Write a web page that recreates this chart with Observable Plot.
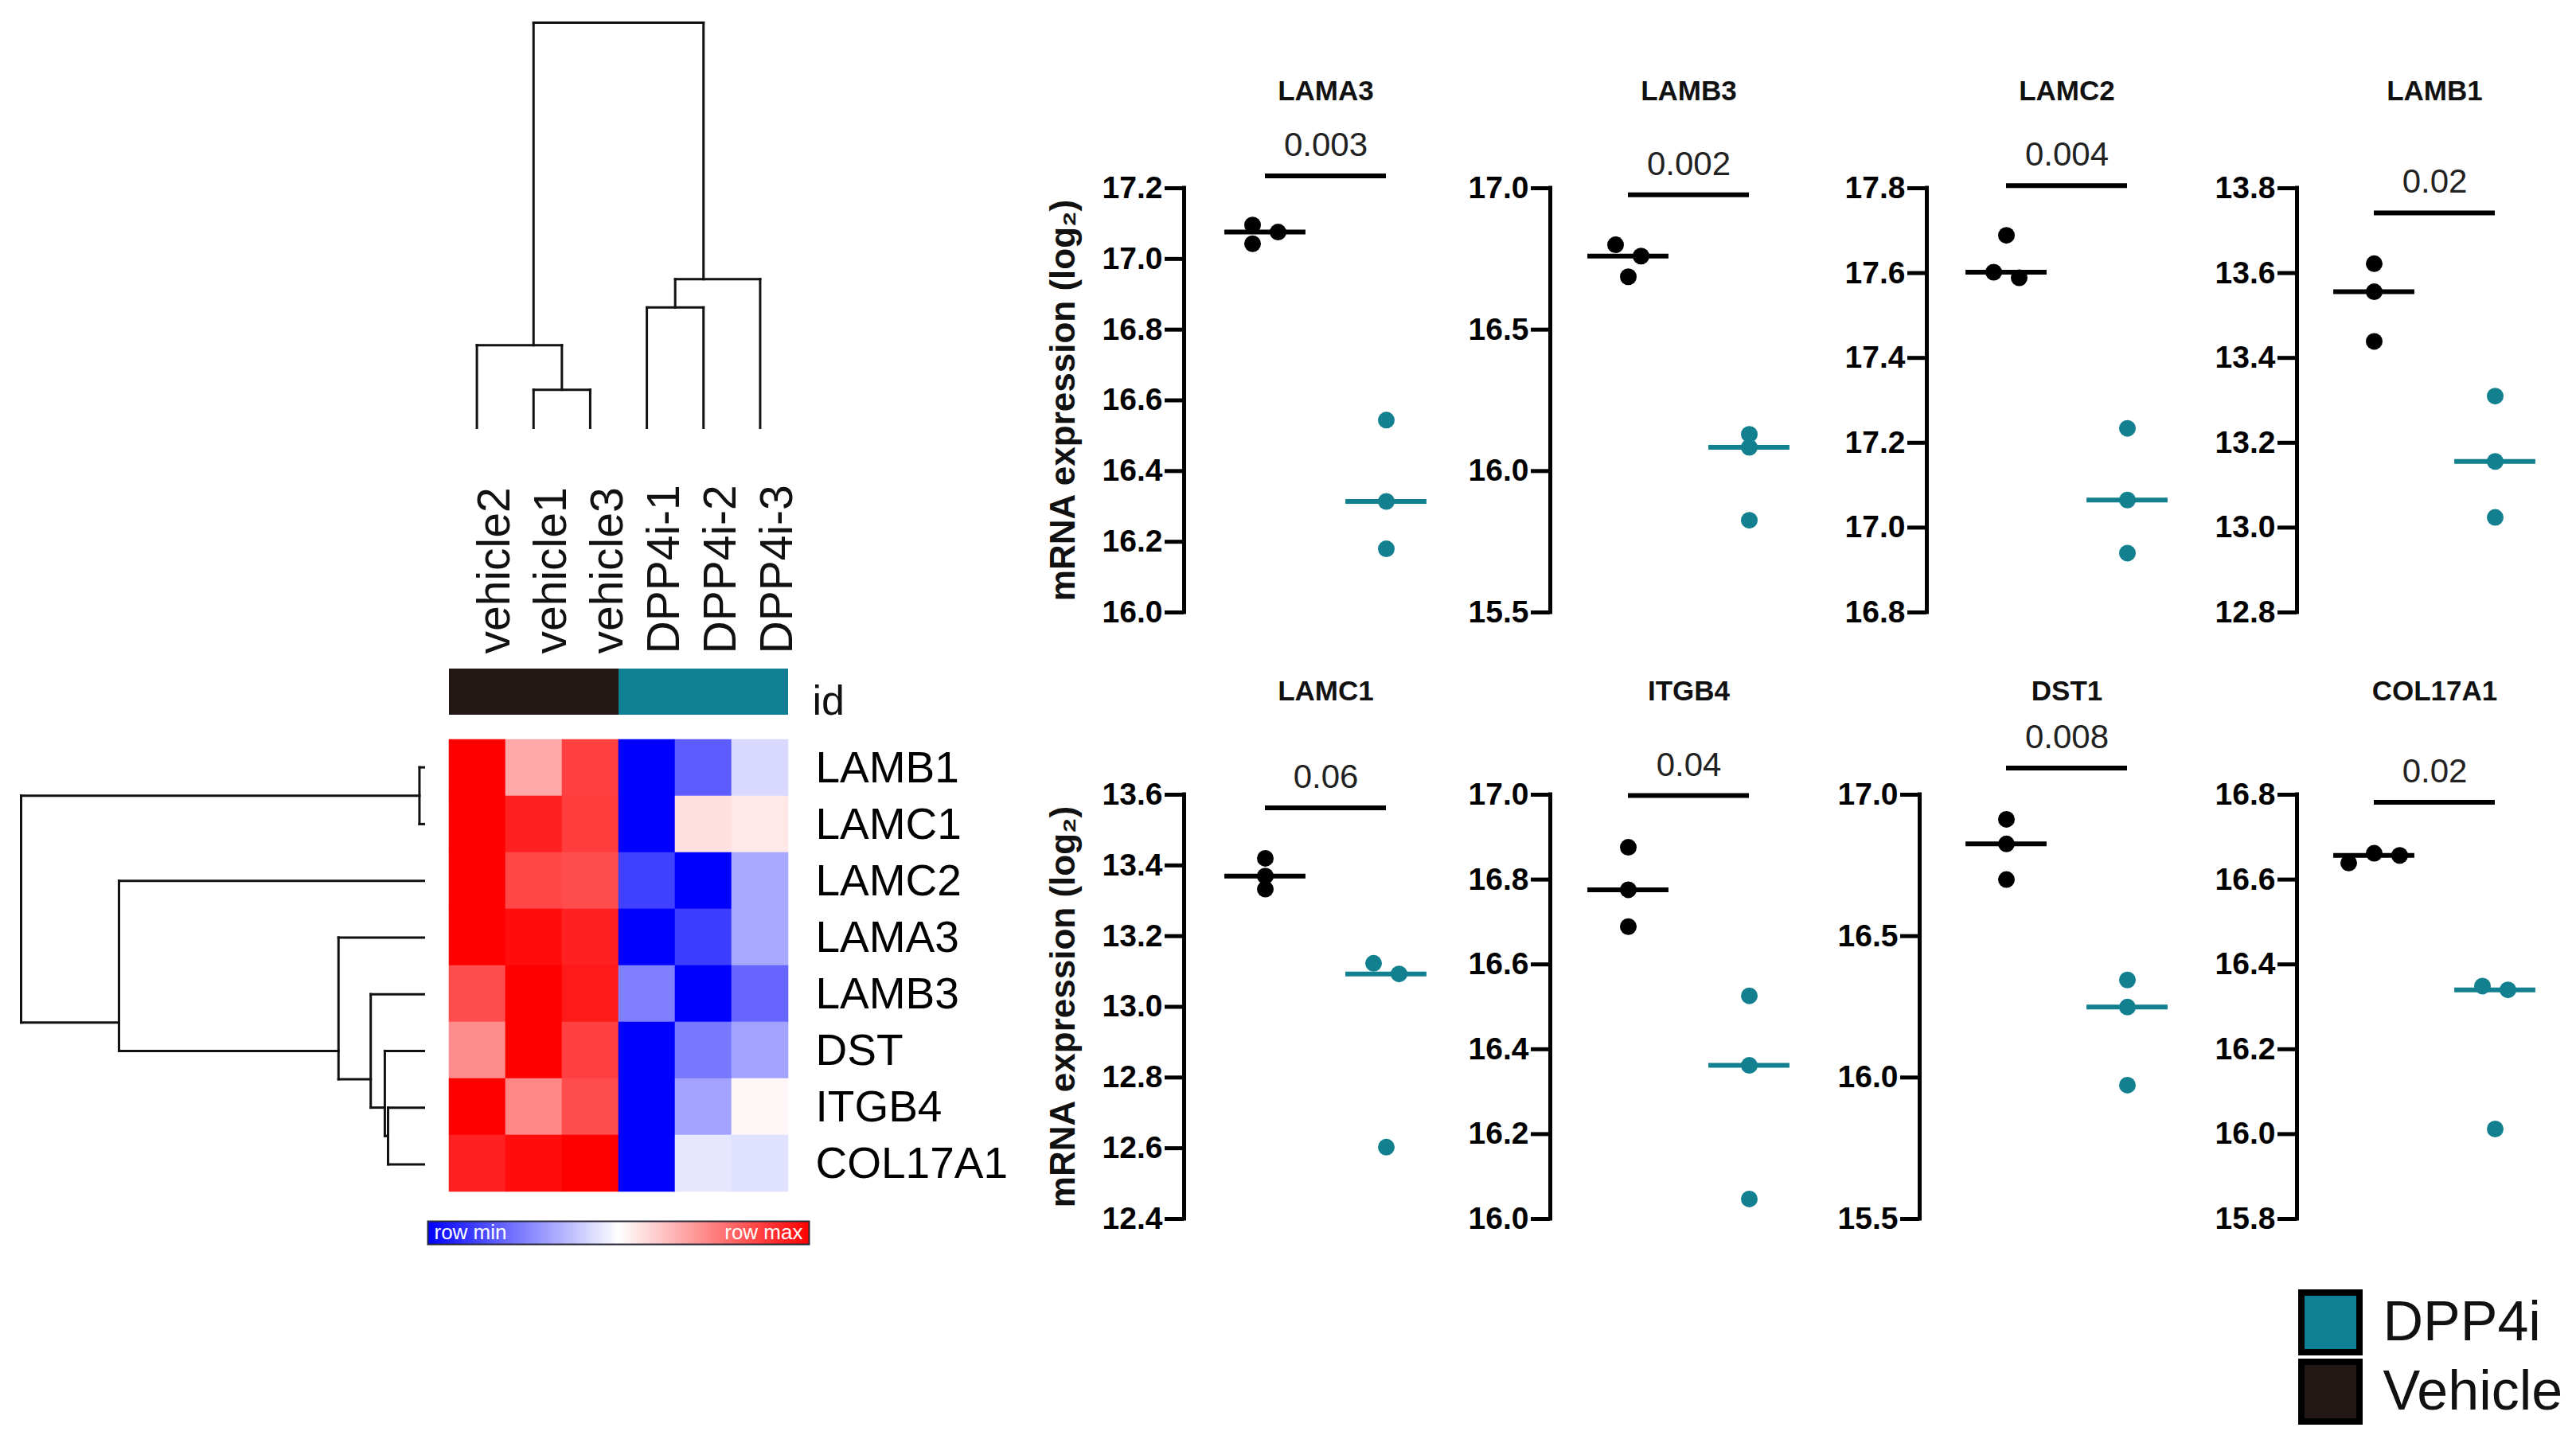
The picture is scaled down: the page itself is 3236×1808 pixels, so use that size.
<!DOCTYPE html>
<html>
<head>
<meta charset="utf-8">
<script src="https://cdn.jsdelivr.net/npm/d3@7"></script>
<script src="https://cdn.jsdelivr.net/npm/@observablehq/plot@0.6"></script>
<style>
html, body { margin: 0; padding: 0; background: #ffffff; }
#root { position: relative; width: 3236px; height: 1808px; overflow: hidden; background: #ffffff; }
.p { position: absolute; }
.p svg { overflow: visible; }
</style>
</head>
<body>
<div id="root"></div>
<script>
// ---------------- DATA ----------------
// Heatmap (row-scaled: -1 = row min, +1 = row max)
const samples = ["vehicle2", "vehicle1", "vehicle3", "DPP4i-1", "DPP4i-2", "DPP4i-3"];
const sampleGroup = ["Vehicle", "Vehicle", "Vehicle", "DPP4i", "DPP4i", "DPP4i"];
const genes = ["LAMB1", "LAMC1", "LAMC2", "LAMA3", "LAMB3", "DST", "ITGB4", "COL17A1"];
const heatLAMB1   = [1.00, 0.34, 0.75, -1.00, -0.64, -0.15];
const heatLAMC1   = [1.00, 0.87, 0.76, -1.00,  0.12,  0.09];
const heatLAMC2   = [1.00, 0.72, 0.70, -0.75, -1.00, -0.34];
const heatLAMA3   = [1.00, 0.95, 0.87, -1.00, -0.76, -0.34];
const heatLAMB3   = [0.70, 1.00, 0.90, -0.50, -1.00, -0.60];
const heatDST     = [0.45, 1.00, 0.75, -1.00, -0.53, -0.36];
const heatITGB4   = [1.00, 0.47, 0.70, -1.00, -0.36,  0.03];
const heatCOL17A1 = [0.87, 0.95, 1.00, -1.00, -0.10, -0.12];
const heatRows = [heatLAMB1, heatLAMC1, heatLAMC2, heatLAMA3, heatLAMB3, heatDST, heatITGB4, heatCOL17A1];

// Dendrogram merges: [childA, childB, distance]; numbers refer to earlier merges
const colMerges = [
  ["vehicle1", "vehicle3", 0.094],
  ["vehicle2", 0, 0.204],
  ["DPP4i-1", "DPP4i-2", 0.297],
  [2, "DPP4i-3", 0.367],
  [1, 3, 1.0]
];
const rowMerges = [
  ["LAMB1", "LAMC1", 0.011],
  ["ITGB4", "COL17A1", 0.089],
  ["DST", 1, 0.097],
  ["LAMB3", 2, 0.132],
  ["LAMA3", 3, 0.212],
  ["LAMC2", 4, 0.757],
  [0, 5, 1.0]
];

// Scatter panels
const groups = ["Vehicle", "DPP4i"];
const panelGenes = ["LAMA3", "LAMB3", "LAMC2", "LAMB1", "LAMC1", "ITGB4", "DST1", "COL17A1"];
const vehicleValues = [
  [17.096, 17.076, 17.043],
  [16.800, 16.760, 16.687],
  [17.689, 17.589, 17.602],
  [13.622, 13.556, 13.439],
  [13.420, 13.370, 13.333],
  [16.876, 16.776, 16.689],
  [16.913, 16.826, 16.700],
  [16.662, 16.657, 16.639]
];
const dpp4iValues = [
  [16.544, 16.314, 16.180],
  [16.130, 16.084, 15.826],
  [17.234, 17.065, 16.940],
  [13.310, 13.156, 13.024],
  [13.123, 13.093, 12.603],
  [16.526, 16.362, 16.047],
  [16.345, 16.249, 15.973],
  [16.349, 16.340, 16.012]
];
const pValues = ["0.003", "0.002", "0.004", "0.02", "0.06", "0.04", "0.008", "0.02"];
const barLevels = [17.235, 16.977, 17.806, 13.742, 13.563, 16.998, 17.094, 16.782];
const yTicks = [
  [16.0, 16.2, 16.4, 16.6, 16.8, 17.0, 17.2],
  [15.5, 16.0, 16.5, 17.0],
  [16.8, 17.0, 17.2, 17.4, 17.6, 17.8],
  [12.8, 13.0, 13.2, 13.4, 13.6, 13.8],
  [12.4, 12.6, 12.8, 13.0, 13.2, 13.4, 13.6],
  [16.0, 16.2, 16.4, 16.6, 16.8, 17.0],
  [15.5, 16.0, 16.5, 17.0],
  [15.8, 16.0, 16.2, 16.4, 16.6, 16.8]
];
const legendGroups = ["DPP4i", "Vehicle"];
const yTitle = "mRNA expression (log₂)";

// ---------------- STYLE / LAYOUT ----------------
const FONT = '"Liberation Sans", Arial, Helvetica, sans-serif';
const groupFill = {Vehicle: "#231815", DPP4i: "#0f8093"};
const dotColors = ["#000000", "#12808f"];
const heatColor = {type: "linear", domain: [-1, 0, 1], range: ["#0000ff", "#ffffff", "#ff0000"], interpolate: "rgb"};
const baseStyle = {fontFamily: FONT, background: "transparent", overflow: "visible", maxWidth: "none", color: "#000"};

const root = document.getElementById("root");
function place(node, left, top, w, h) {
  const div = document.createElement("div");
  div.className = "p";
  div.style.left = left + "px";
  div.style.top = top + "px";
  div.style.width = w + "px";
  div.style.height = h + "px";
  div.appendChild(node);
  root.appendChild(div);
}

function dendroSegments(leaves, merges) {
  const leafIndex = new Map(leaves.map((d, i) => [d, i]));
  const nodes = [];
  const get = (ref) => typeof ref === "number" ? nodes[ref] : {pos: leafIndex.get(ref) + 0.5, h: 0, n: 1};
  const segs = [];
  for (const [a, b, h] of merges) {
    const A = get(a), B = get(b);
    segs.push({p1: A.pos, h1: A.h, p2: A.pos, h2: h});
    segs.push({p1: B.pos, h1: B.h, p2: B.pos, h2: h});
    segs.push({p1: A.pos, h1: h, p2: B.pos, h2: h});
    const n = A.n + B.n;
    nodes.push({pos: (A.pos * A.n + B.pos * B.n) / n, h, n});
  }
  return segs;
}

// side-by-side placement of colliding points (pixel offsets)
function dodgeOffsets(values, ppu, diam = 15.5, half = 16) {
  const order = d3.range(values.length).sort((a, b) => values[a] - values[b]);
  const off = new Array(values.length).fill(0);
  const clusters = [];
  let cur = [];
  order.forEach((idx, k) => {
    if (k > 0 && (values[idx] - values[order[k - 1]]) * ppu >= diam) { clusters.push(cur); cur = []; }
    cur.push(idx);
  });
  clusters.push(cur);
  const lattice = [-1, 1, -3, 3, -5, 5].map(m => m * half);
  for (const c of clusters) {
    if (c.length < 2) continue;
    // place from the top point downwards
    const seq = c.slice().reverse();
    const placed = [];
    for (const idx of seq) {
      const yp = values[idx] * ppu;
      let x = lattice.find(x => placed.every(p => Math.hypot(p.x - x, p.y - yp) >= diam));
      if (x === undefined) x = 0;
      placed.push({idx, x, y: yp});
    }
    const mid = (d3.min(placed, p => p.x) + d3.max(placed, p => p.x)) / 2;
    placed.forEach(p => { off[p.idx] = p.x - mid; });
  }
  return off;
}

// ---------------- HEATMAP BLOCK ----------------
const HM_LEFT = 563, HM_W = 427, HM_TOP = 928, HM_H = 570;

// column dendrogram
const colSegs = dendroSegments(samples, colMerges);
place(Plot.plot({
  width: HM_W, height: 547, marginTop: 28, marginBottom: 10, marginLeft: 0, marginRight: 0,
  x: {domain: [0, samples.length], axis: null},
  y: {domain: [0, 1], axis: null},
  style: baseStyle,
  marks: [
    Plot.link(colSegs, {x1: "p1", x2: "p2", y1: "h1", y2: "h2", stroke: "#111", strokeWidth: 3, strokeLinecap: "square"})
  ]
}), HM_LEFT, 0, HM_W, 547);

// column labels + id bar
place(Plot.plot({
  width: HM_W + 120, height: 330, marginTop: 260, marginBottom: 12, marginLeft: 0, marginRight: 120,
  x: {domain: samples, padding: 0, axis: null},
  color: {type: "identity"},
  style: baseStyle,
  marks: [
    Plot.cell(samples, {x: d => d, fill: (d, i) => groupFill[sampleGroup[i]], inset: 0}),
    Plot.text(samples, {x: d => d, text: d => d, frameAnchor: "top", rotate: -90, textAnchor: "start", dy: -19, fontSize: 57, fill: "#111"}),
    Plot.text(["id"], {text: d => d, frameAnchor: "right", dx: 30, dy: 12, textAnchor: "start", fontSize: 52, fill: "#111"})
  ]
}), HM_LEFT, 580, HM_W + 120, 330);

// heatmap cells + row labels
const heatCells = [];
genes.forEach((g, r) => samples.forEach((s, c) => heatCells.push({gene: g, sample: s, v: heatRows[r][c]})));
place(Plot.plot({
  width: HM_W + 320, height: HM_H + 20, marginTop: 10, marginBottom: 10, marginLeft: 0, marginRight: 320,
  x: {domain: samples, padding: 0, axis: null},
  y: {domain: genes, padding: 0},
  color: heatColor,
  style: baseStyle,
  marks: [
    Plot.cell(heatCells, {x: "sample", y: "gene", fill: "v", stroke: "v", strokeWidth: 0.6}),
    Plot.axisY({anchor: "right", tickSize: 0, tickPadding: 34, fontSize: 55, label: null})
  ]
}), HM_LEFT, HM_TOP - 10, HM_W + 320, HM_H + 20);

// row dendrogram
const rowSegs = dendroSegments(genes, rowMerges);
place(Plot.plot({
  width: 545, height: HM_H + 20, marginTop: 10, marginBottom: 10, marginLeft: 26, marginRight: 13,
  x: {domain: [1, 0], axis: null},
  y: {domain: [0, genes.length], reverse: true, axis: null},
  style: baseStyle,
  marks: [
    Plot.link(rowSegs, {x1: "h1", x2: "h2", y1: "p1", y2: "p2", stroke: "#111", strokeWidth: 3, strokeLinecap: "square"})
  ]
}), 0, HM_TOP - 10, 545, HM_H + 20);

// colour ramp legend
place(Plot.plot({
  width: 489, height: 39, marginTop: 5, marginBottom: 5, marginLeft: 5, marginRight: 5,
  x: {domain: [-1, 1], axis: null},
  y: {domain: [0, 1], axis: null},
  color: heatColor,
  style: baseStyle,
  marks: [
    Plot.raster({fill: (x, y) => x, x1: -1, x2: 1, y1: 0, y2: 1, imageRendering: "auto"}),
    Plot.frame({stroke: "#2a2a3a", strokeWidth: 2}),
    Plot.text(["row min"], {text: d => d, frameAnchor: "left", dx: 8, textAnchor: "start", fill: "white", fontSize: 26}),
    Plot.text(["row max"], {text: d => d, frameAnchor: "right", dx: -8, textAnchor: "end", fill: "white", fontSize: 26})
  ]
}), 532, 1529, 489, 39);

// ---------------- SCATTER PANELS ----------------
const PANEL_AXIS_X = [1487, 1947, 2420, 2885, 1487, 1947, 2411, 2885];
const COL_VEH_X = [1589, 2045, 2520, 2982];
const SPACING = 152;
const FRAME_H = 533;
const ROW_FRAME_TOP = [236, 998];
const ROW_TITLE_DY = [-111, -119];

panelGenes.forEach((gene, i) => {
  const row = Math.floor(i / 4), col = i % 4;
  const ticks = yTicks[i];
  const y0 = ticks[0], y1 = ticks[ticks.length - 1];
  const axisX = PANEL_AXIS_X[i];
  const frameTop = ROW_FRAME_TOP[row];
  const xLeft = -(COL_VEH_X[col] - axisX) / SPACING;
  const xRight = 1 + 100 / SPACING;
  const frameW = Math.round((xRight - xLeft) * SPACING);
  const mL = 190, mT = 200, mB = 20, mR = 10;
  const W = mL + frameW + mR, H = mT + FRAME_H + mB;
  const ppu = FRAME_H / (y1 - y0);

  const pts = [];
  [vehicleValues[i], dpp4iValues[i]].forEach((vals, gi) => {
    const off = dodgeOffsets(vals, ppu);
    vals.forEach((v, k) => pts.push({gi, v, x: gi + off[k] / SPACING}));
  });
  const medians = [vehicleValues[i], dpp4iValues[i]].map((vals, gi) => ({gi, m: d3.median(vals)}));

  const marks = [
    Plot.ruleX([xLeft], {y1: y0, y2: y1, stroke: "#000", strokeWidth: 5, strokeLinecap: "square"}),
    Plot.axisY({ticks, anchor: "left", tickSize: 24, tickPadding: 3, tickFormat: d3.format(".1f"),
      fontSize: 39, fontWeight: "bold", strokeWidth: 5, label: null}),
    Plot.ruleY(medians, {y: "m", x1: d => d.gi - 0.335, x2: d => d.gi + 0.335, stroke: d => dotColors[d.gi], strokeWidth: 6}),
    Plot.dot(pts, {x: "x", y: "v", r: 10.5, fill: d => dotColors[d.gi], stroke: "none"}),
    Plot.ruleY([barLevels[i]], {x1: 0, x2: 1, stroke: "#000", strokeWidth: 6}),
    Plot.text([pValues[i]], {x: 0.5, y: barLevels[i], text: d => d, dy: -25, lineAnchor: "bottom", fontSize: 42, fill: "#222"}),
    Plot.text([gene], {x: 0.5, text: d => d, frameAnchor: "top", dy: ROW_TITLE_DY[row], lineAnchor: "bottom", fontSize: 35, fontWeight: "bold", fill: "#111"})
  ];
  if (col === 0) {
    marks.push(Plot.text([yTitle], {text: d => d, frameAnchor: "left", textAnchor: "middle", lineAnchor: "middle",
      dx: -152, rotate: -90, fontSize: 44, fontWeight: "bold", fill: "#111"}));
  }

  place(Plot.plot({
    width: W, height: H, marginTop: mT, marginBottom: mB, marginLeft: mL, marginRight: mR,
    x: {domain: [xLeft, xRight], axis: null},
    y: {domain: [y0, y1]},
    color: {type: "identity"},
    style: baseStyle,
    marks
  }), axisX - mL, frameTop - mT, W, H);
});

// ---------------- GROUP LEGEND ----------------
place(Plot.plot({
  width: 366, height: 190, marginTop: 8, marginBottom: 8, marginLeft: 21, marginRight: 272,
  y: {domain: legendGroups, padding: 0, axis: null},
  color: {type: "identity"},
  style: baseStyle,
  marks: [
    Plot.cell(legendGroups, {y: d => d, fill: d => groupFill[d], stroke: "#000", strokeWidth: 8, insetTop: 6, insetBottom: 6}),
    Plot.text(legendGroups, {y: d => d, text: d => d, frameAnchor: "right", dx: 29, textAnchor: "start", fontSize: 70, fill: "#111"})
  ]
}), 2870, 1610, 366, 190);
</script>
</body>
</html>
